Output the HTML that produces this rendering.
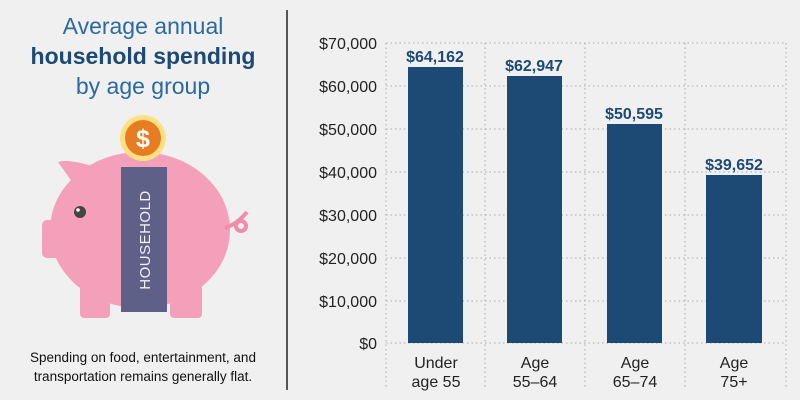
<!DOCTYPE html>
<html><head><meta charset="utf-8"><style>
body{margin:0;background:#f0f0f0;font-family:"Liberation Sans",sans-serif}
</style></head><body>
<svg width="800" height="400" xmlns="http://www.w3.org/2000/svg" style="display:block">
<rect width="800" height="400" fill="#f0f0f0"/>
<g font-family="Liberation Sans, sans-serif" text-anchor="middle" fill="#1c4a74">
<text x="143" y="34" font-size="23" fill="#2a6aa0">Average annual</text>
<text x="143" y="64" font-size="23" font-weight="bold">household spending</text>
<text x="143" y="94" font-size="23" fill="#2a6aa0">by age group</text>
</g>
<line x1="287" y1="10" x2="287" y2="390" stroke="#222" stroke-width="1.5"/>
<!-- pig -->
<g>
<path d="M58,162 Q70,158 105,170 L85,200 Z" fill="#f4a0bb"/>
<rect x="80" y="280" width="30" height="38" rx="4" fill="#f4a0bb"/>
<rect x="170" y="280" width="32" height="38" rx="4" fill="#f4a0bb"/>
<ellipse cx="140" cy="230" rx="90" ry="78" fill="#f4a0bb"/>
<rect x="42" y="220" width="34" height="38" rx="5" fill="#f4a0bb"/>
<path d="M225,228 q12,-4 22,-16" stroke="#f08cac" stroke-width="4" fill="none"/>
<circle cx="241" cy="226" r="5" stroke="#f08cac" stroke-width="4" fill="none"/>
<circle cx="80" cy="212" r="6" fill="#444"/>
<circle cx="78" cy="210" r="1.8" fill="#fff"/>
<rect x="121" y="167" width="46" height="145" fill="#5e6088"/>
<text x="0" y="0" transform="translate(150,240) rotate(-90)" text-anchor="middle" font-size="15" fill="#f0f0f0" letter-spacing="0.5">HOUSEHOLD</text>
<circle cx="143" cy="138" r="23" fill="#fde084"/>
<circle cx="143" cy="138" r="18" fill="#e87c22"/>
<text x="143" y="147" text-anchor="middle" font-size="25" fill="#fff" font-weight="bold">$</text>
</g>
<text x="143" y="362" text-anchor="middle" font-size="13.5" fill="#111">Spending on food, entertainment, and</text>
<text x="143" y="381" text-anchor="middle" font-size="13.5" fill="#111">transportation remains generally flat.</text>
<!-- grid -->
<g stroke="#aaa" stroke-width="1" stroke-dasharray="1.5,3">
<line x1="386" y1="43" x2="786" y2="43"/>
<line x1="386" y1="86" x2="786" y2="86"/>
<line x1="386" y1="129" x2="786" y2="129"/>
<line x1="386" y1="172" x2="786" y2="172"/>
<line x1="386" y1="215" x2="786" y2="215"/>
<line x1="386" y1="258" x2="786" y2="258"/>
<line x1="386" y1="301" x2="786" y2="301"/>
<line x1="386" y1="343" x2="786" y2="343"/>
<line x1="386" y1="43" x2="386" y2="387"/>
<line x1="485" y1="43" x2="485" y2="387"/>
<line x1="585" y1="43" x2="585" y2="387"/>
<line x1="685" y1="43" x2="685" y2="387"/>
<line x1="786" y1="43" x2="786" y2="387"/>
</g>
<g font-size="16" fill="#222" text-anchor="end">
<text x="377" y="49">$70,000</text>
<text x="377" y="92">$60,000</text>
<text x="377" y="135">$50,000</text>
<text x="377" y="178">$40,000</text>
<text x="377" y="221">$30,000</text>
<text x="377" y="264">$20,000</text>
<text x="377" y="307">$10,000</text>
<text x="377" y="349">$0</text>
</g>
<g fill="#1c4a74">
<rect x="408" y="67" width="55" height="276"/>
<rect x="507" y="76" width="55" height="267"/>
<rect x="607" y="124" width="55" height="219"/>
<rect x="706" y="175" width="56" height="168"/>
</g>
<g font-size="16" font-weight="bold" fill="#1c4a74" text-anchor="middle">
<text x="435" y="62">$64,162</text>
<text x="534" y="71">$62,947</text>
<text x="634" y="119">$50,595</text>
<text x="734" y="170">$39,652</text>
</g>
<g font-size="16" fill="#222" text-anchor="middle">
<text x="436" y="368">Under</text><text x="436" y="387">age 55</text>
<text x="535" y="368">Age</text><text x="535" y="387">55–64</text>
<text x="635" y="368">Age</text><text x="635" y="387">65–74</text>
<text x="734" y="368">Age</text><text x="734" y="387">75+</text>
</g>
</svg>
</body></html>
